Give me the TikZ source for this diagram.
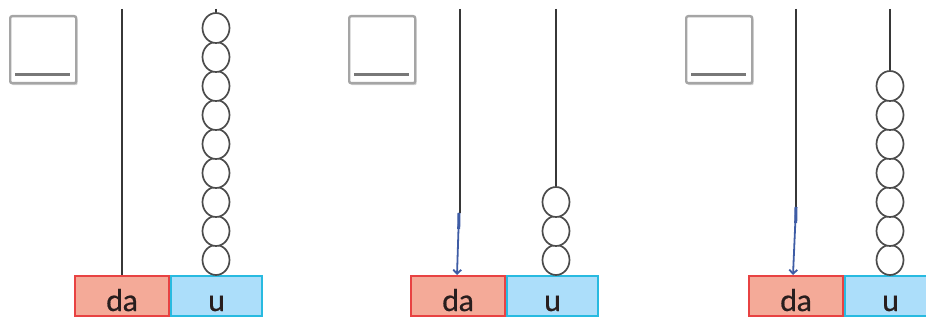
\documentclass[tikz,border=0pt]{standalone}
\usepackage{fontspec}
\setmainfont{Lato}
\newfontfamily\labelfont[FakeBold=0.7]{Lato}
\usetikzlibrary{arrows.meta,shapes.geometric,shadows}
\definecolor{dafill}{RGB}{244,170,152}
\definecolor{daline}{RGB}{232,66,66}
\definecolor{ufill}{RGB}{172,222,250}
\definecolor{uline}{RGB}{40,186,224}
\definecolor{rodc}{RGB}{55,55,55}
\definecolor{sqline}{RGB}{165,165,165}
\definecolor{sqbar}{RGB}{120,120,120}
\definecolor{arrowblue}{RGB}{62,92,165}
\definecolor{labeltext}{RGB}{40,30,30}
\tikzset{
  cellbox/.style={line width=2pt, minimum height=40pt, inner sep=0pt, anchor=north west,
    font=\labelfont\fontsize{30}{32}\selectfont, text=labeltext, text height=30pt, text depth=0pt},
  dabox/.style={cellbox, draw=daline, fill=dafill, minimum width=94pt},
  ubox/.style={cellbox, draw=uline, fill=ufill, minimum width=91pt},
  rodline/.style={draw=rodc, line width=1.6pt},
  bead/.style={ellipse, draw=rodc!90, line width=1.7pt, fill=white, minimum width=27pt, minimum height=30pt, inner sep=0pt},
  answerbox/.style={draw=sqline, line width=2.4pt, fill=white, rounded corners=2pt, minimum width=66pt, minimum height=67pt, inner sep=0pt, anchor=north west,
    drop shadow={shadow xshift=1.5pt, shadow yshift=-2pt, opacity=0.35}},
  answerbar/.style={draw=sqbar, line width=2.6pt},
  movearrow/.style={draw=arrowblue, line width=1.8pt, -{Straight Barb[length=4pt,width=8pt]}}
}
\begin{document}
\begin{tikzpicture}[x=1pt,y=-1pt]
\useasboundingbox (0,0) rectangle (926,320);
\clip (0,0) rectangle (926,320);
% ---------- panel 1 ----------
\node[answerbox] (sq1) at (9,15) {};
\draw[answerbar] ([xshift=6pt,yshift=10pt]sq1.south west) -- ([xshift=-7pt,yshift=10pt]sq1.south east);
\node[dabox] (da1) at (74,275) {da};
\node[ubox] (u1) at (da1.north east) {u};
\coordinate (t1a) at (da1.north |- 0,9);
\coordinate (t1b) at ([xshift=-0.5pt]u1.north |- 0,9);
\draw[rodline] (t1a) -- (da1.north);
\draw[rodline] (t1b) -- ([xshift=-0.5pt]u1.north);
\foreach \i in {0,...,8} \node[bead] (b1\i) at ([xshift=-0.5pt,yshift={15+29*\i}]u1.north) {};
% ---------- panel 2 ----------
\node[answerbox] (sq2) at (348,15) {};
\draw[answerbar] ([xshift=6pt,yshift=10pt]sq2.south west) -- ([xshift=-7pt,yshift=10pt]sq2.south east);
\node[dabox] (da2) at (410,275) {da};
\node[ubox] (u2) at (da2.north east) {u};
\coordinate (t2a) at ([xshift=2pt]da2.north |- 0,9);
\coordinate (t2b) at ([xshift=3.5pt]u2.north |- 0,9);
\coordinate (a2) at ([xshift=2pt]da2.north |- 0,213);
\draw[rodline] (t2a) -- (a2);
\draw[rodline] (t2b) -- ([xshift=3.5pt]u2.north);
\foreach \i in {0,...,2} \node[bead] (b2\i) at ([xshift=3.5pt,yshift={15+29*\i}]u2.north) {};
\draw[arrowblue, line width=3pt] ([xshift=-1pt]a2) -- ++(-0.3,16);
\draw[movearrow] ([xshift=-1pt]a2) -- ([xshift=-1pt]da2.north);
% ---------- panel 3 ----------
\node[answerbox] (sq3) at (685,15) {};
\draw[answerbar] ([xshift=6pt,yshift=10pt]sq3.south west) -- ([xshift=-7pt,yshift=10pt]sq3.south east);
\node[dabox] (da3) at (748,275) {da};
\node[ubox] (u3) at (da3.north east) {u};
\coordinate (t3a) at (da3.north |- 0,9);
\coordinate (t3b) at ([xshift=-0.5pt]u3.north |- 0,9);
\coordinate (a3) at (da3.north |- 0,207);
\draw[rodline] (t3a) -- (a3);
\draw[rodline] (t3b) -- ([xshift=-0.5pt]u3.north);
\foreach \i in {0,...,6} \node[bead] (b3\i) at ([xshift=-0.5pt,yshift={15+29*\i}]u3.north) {};
\draw[arrowblue, line width=3pt] (a3) -- ++(-0.3,16);
\draw[movearrow] (a3) -- ([xshift=-3pt]da3.north);
\end{tikzpicture}
\end{document}
